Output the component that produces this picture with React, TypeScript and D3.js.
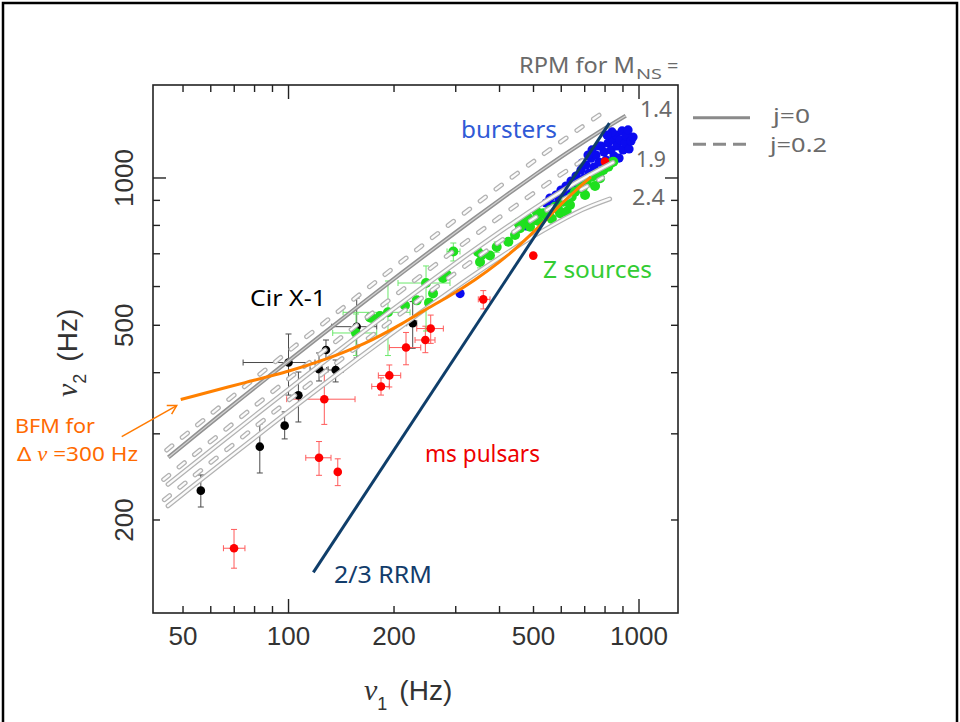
import React from 'react';
import * as d3 from 'd3';

// ---- axis domains & ticks ----
const X_DOMAIN = [41.05, 1292];
const Y_DOMAIN = [129.1, 1549];
const X_TICK_LABELS = [50, 100, 200, 500, 1000];
const Y_TICK_LABELS = [200, 500, 1000];
const X_MAJOR = [100, 1000];
const X_MINOR = [50, 60, 70, 80, 90, 200, 300, 400, 500, 600, 700, 800, 900];
const Y_MAJOR = [1000];
const Y_MINOR = [200, 300, 400, 500, 600, 700, 800, 900];

// ---- RPM model curves [nu1, nu2] ----
const rpm14j0 = [[45.4, 268.4], [63, 325.1], [89.5, 397.2], [122.5, 474], [162.6, 555.1], [210.8, 640.4], [268.2, 729.7], [336, 822.7], [415.9, 919.5], [509.9, 1019.7], [621, 1123.4], [753.9, 1230.4], [916.6, 1340.5]];
const rpm19j0 = [[45.3, 236.5], [65.9, 292.7], [90.2, 349.2], [119.8, 409], [155.3, 471.8], [197.6, 537.6], [247.6, 606.2], [306.4, 677.5], [375.7, 751.4], [457.5, 827.7], [555.5, 906.6], [675.3, 987.6], [843, 1076]];
const rpm24j0 = [[45.3, 213.7], [52.2, 231.7], [71.5, 276.5], [94.8, 323.8], [123, 373.5], [156.4, 425.7], [196, 479.9], [242.6, 536.4], [297.4, 594.8], [362.2, 655.3], [439.7, 717.7], [534.7, 781.9], [689.1, 861.4], [825, 906.3]];
const rpm14j2 = [[44.9, 277.9], [82.4, 395.9], [147.4, 552.5], [239.1, 725.3], [371.8, 923.9], [528.4, 1112.8], [673.8, 1259.4], [770.6, 1345.3]];
const rpm19j2 = [[44, 241.9], [88.1, 361.3], [154.6, 496.9], [248.9, 646.3], [389.3, 819.9], [567.6, 991], [728.8, 1113.6]];
const rpm24j2 = [[44.2, 219.9], [86, 322.3], [139.5, 423.1], [216.9, 538.9], [333.2, 675.8], [471.1, 802.7], [610, 903.5], [787.2, 1000.9]];

// ---- BFM curve and RRM line ----
const bfm = [[49.25, 352.5], [77.6, 384.2], [101, 403.3], [125.5, 423.5], [167.2, 459.2], [208, 500.7], [242.4, 535.6], [289, 574.1], [340.5, 618.7], [401.3, 673.5], [457.6, 729.8], [521.9, 797.7], [595.1, 880.7], [656.8, 940.6], [729.4, 1004.7]];
const rrm = [[117.7, 156.3], [823, 1295]];

// ---- data: [nu1, nu2, nu1lo, nu1hi, nu2lo, nu2hi] ----
const cirX1 = [
  [56.2, 229.6, null, null, 212.6, 247.2],
  [82.8, 282.4, null, null, 249.5, 314.4],
  [97.5, 311.8, null, null, 292.9, 332.6],
  [100, 419.6, 74.2, 119, 360, 479.9],
  [106.7, 359.6, null, null, 317.2, 401.3],
  [122.2, 406.4, 115.2, 129.7, 384.7, 438.9],
  [136.3, 405.1, 128.5, 143, 383, 424.6],
  [127.9, 445, null, null, 424.6, 466.5],
  [156.5, 496.7, 132.8, 178.5, 428.7, 568.5],
  [226.1, 504.7, 217.4, 232.2, 448.7, 558.9],
];
const msPulsars = [
  [69.9, 175.1, 65.2, 75.1, 159.4, 191.3],
  [122.2, 268, 112, 132.2, 246.8, 289.3],
  [138.2, 250.8, null, null, 235.1, 266.7],
  [126.5, 353.1, 98.8, 154.8, 313.6, 401.8],
  [183.6, 374.9, 172.8, 193.9, 360, 390.4],
  [193.9, 394.9, 180.4, 209, 374, 414.8],
  [216.4, 450.2, 193.9, 238.4, 415.2, 483.4],
  [245.7, 466.5, 229.6, 261.8, 439.5, 497.8],
  [254.5, 492.3, 232.2, 276.5, 459.2, 524.6],
  [359.5, 564.9, 347.9, 375.7, 540, 588.6],
  [499.3, 694, null, null, null, null],
  [799.8, 1080, null, null, null, null],
];
const zErr = [
  [155.8, 482.2, 133.7, 178.5, 433.6, 527.3],
  [192.2, 531.4, 143.1, 222.2, 433.6, 615.8],
  [246.8, 610, 205.3, 288.9, 486.7, 661],
  [295.3, 707.7, 283.3, 308.5, 676.7, 736.4],
  [351.9, 673.5, 344, 360, 655, 692],
  [392.6, 722.8, 386, 400, 705, 740],
];
const zSources = [[170.8, 518.5], [182.4, 522.4], [192.2, 531.4], [214.9, 548.7], [232.2, 562.2], [246.8, 610], [258.4, 580.7], [251.7, 556.2], [275.9, 624.5], [282.7, 634.6], [295.3, 707.7], [347.3, 706.1], [351.9, 673.5], [355.8, 696.1], [375.7, 694.2], [392.6, 722.8], [423.8, 740.5], [442.9, 764.6], [452.6, 809.6], [457.6, 789.3], [467.6, 808.1], [482.4, 829.6], [488.7, 795.3], [505, 820.7], [510.7, 853.5], [517, 817], [533.3, 847.1], [545.3, 836.2], [557.4, 860.2], [564, 825], [575.9, 873.7], [587.6, 864.3], [595.1, 847.1], [608.1, 894.6], [621.9, 853.5], [621.9, 899.6], [635.6, 880.7], [642.7, 915.8], [656.8, 937.5], [678.8, 952.6], [693.6, 960], [701.5, 923.1], [709.3, 975.4], [732.8, 1006.1], [749.1, 963], [765.5, 1022.3], [774.2, 998.6], [791, 1038], [817.5, 1054.6], [836, 1075.2], [844.8, 1079.7], [155.8, 482.2], [173.1, 517.5]];
const bursters = [[543, 889], [557, 910.1], [568.5, 880.7], [579.7, 923], [591.2, 901.6], [599, 945], [611, 918.8], [619, 963], [631.4, 936.3], [639.8, 985.9], [652.5, 954], [661.1, 1009], [674.3, 972.2], [683.3, 1038], [696.9, 1000], [706.1, 1063], [720.2, 1023.6], [729.7, 1098], [734.5, 1141], [744.2, 1053], [754.1, 1114], [769.1, 1077.9], [779.3, 1162.5], [789.5, 1038], [794.7, 1130.4], [805.2, 1088], [815.9, 1179], [821.3, 1063], [832.1, 1141], [843.1, 1196], [848.7, 1108.8], [859.9, 1224], [865.6, 1162.5], [877.2, 1098.3], [883, 1196], [894.6, 1247.7], [900.5, 1141], [912.5, 1179], [918.5, 1218.3], [930.6, 1253.6], [936.7, 1146.4], [948.8, 1190.4], [961.4, 1212.6], [769.1, 1162.5], [715.5, 1114], [687.8, 1072.8], [837.6, 1241.9], [810.6, 1224], [308.6, 580.5], [476, 797.7]];

const LBL = "'Comic Sans MS','Noto Sans',sans-serif";

export default function App() {
  const xs = d3.scaleLog().domain(X_DOMAIN).range([153, 678]);
  const ys = d3.scaleLog().domain(Y_DOMAIN).range([613, 85]);
  const [L, R] = xs.range();
  const [B, T] = ys.range();
  const line = d3.line<number[]>().x((d) => xs(d[0])).y((d) => ys(d[1])).curve(d3.curveCatmullRom.alpha(0.5));
  const smooth = d3.line<number[]>().x((d) => xs(d[0])).y((d) => ys(d[1])).curve(d3.curveBasis);
  const straight = d3.line<number[]>().x((d) => xs(d[0])).y((d) => ys(d[1]));

  const errBars = (rows: any[], color: string, key: string) =>
    rows.map((r, i) => {
      const cx = xs(r[0]);
      const cy = ys(r[1]);
      const els: any[] = [];
      if (r[2] != null) {
        const x1 = xs(r[2]);
        const x2 = xs(r[3]);
        els.push(<line key="h" x1={x1} x2={x2} y1={cy} y2={cy} />);
        els.push(<line key="hc1" x1={x1} x2={x1} y1={cy - 3} y2={cy + 3} />);
        els.push(<line key="hc2" x1={x2} x2={x2} y1={cy - 3} y2={cy + 3} />);
      }
      if (r[4] != null) {
        const y1 = ys(r[4]);
        const y2 = ys(r[5]);
        els.push(<line key="v" x1={cx} x2={cx} y1={y1} y2={y2} />);
        els.push(<line key="vc1" x1={cx - 3} x2={cx + 3} y1={y1} y2={y1} />);
        els.push(<line key="vc2" x1={cx - 3} x2={cx + 3} y1={y2} y2={y2} />);
      }
      return (
        <g key={key + i} stroke={color} strokeWidth={1}>
          {els}
        </g>
      );
    });

  const dots = (rows: any[], color: string, r: number, key: string) =>
    rows.map((d, i) => <circle key={key + i} cx={xs(d[0])} cy={ys(d[1])} r={r} fill={color} />);

  const tube = (data: number[][], dashed: boolean, dark: boolean, key: string) => {
    const d = line(data) as string;
    if (dark) {
      return (
        <g key={key}>
          <path d={d} fill="none" stroke="#929292" strokeWidth={4.2} />
          <path d={d} fill="none" stroke="#d2d2d2" strokeWidth={1.2} />
        </g>
      );
    }
    const da = dashed ? '7 13' : undefined;
    return (
      <g key={key}>
        <path d={d} fill="none" stroke="#b2b2b2" strokeWidth={4.8} strokeDasharray={da} strokeLinecap="round" />
        <path d={d} fill="none" stroke="#fbfbfb" strokeWidth={2.3} strokeDasharray={da} strokeLinecap="round" />
      </g>
    );
  };

  const tip = [xs(bfm[0][0]) - 4, ys(bfm[0][1]) + 6];
  const tail = [tip[0] - 55, tip[1] + 31];

  return (
    <svg width={960} height={722} style={{ position: 'absolute', left: 0, top: 0, background: '#fff' }}>
      <rect x={3} y={3} width={954} height={745} fill="none" stroke="#000" strokeWidth={2.5} />

      {/* error bars */}
      {errBars(cirX1, '#4a4a4a', 'be')}
      {errBars(msPulsars, '#ff5a5a', 're')}
      {errBars(zErr, '#6be86b', 'ge')}

      {/* points */}
      {dots(cirX1, '#000', 4.3, 'bd')}
      {dots(bursters, '#0b0bf0', 4.6, 'ud')}
      {dots(zSources, '#1fe01f', 5, 'gd')}
      {dots(msPulsars, '#ff0000', 4.3, 'rd')}

      {/* model curves */}
      {tube(rpm24j0, false, false, 'c24')}
      {tube(rpm24j2, true, false, 'c24d')}
      {tube(rpm19j0, false, false, 'c19')}
      {tube(rpm19j2, true, false, 'c19d')}
      {tube(rpm14j2, true, false, 'c14d')}
      {tube(rpm14j0, false, true, 'c14')}

      <path d={smooth(bfm) as string} fill="none" stroke="#ff8000" strokeWidth={3} />
      <path d={straight(rrm) as string} fill="none" stroke="#0f3e6a" strokeWidth={3} />

      {/* frame and ticks */}
      <rect x={L} y={T} width={R - L} height={B - T} fill="none" stroke="#222" strokeWidth={1.6} />
      <g stroke="#222" strokeWidth={1.4}>
        {X_MAJOR.map((v) => (
          <g key={'xM' + v}>
            <line x1={xs(v)} x2={xs(v)} y1={B} y2={B - 14} />
            <line x1={xs(v)} x2={xs(v)} y1={T} y2={T + 14} />
          </g>
        ))}
        {X_MINOR.map((v) => (
          <g key={'xm' + v}>
            <line x1={xs(v)} x2={xs(v)} y1={B} y2={B - 7} />
            <line x1={xs(v)} x2={xs(v)} y1={T} y2={T + 7} />
          </g>
        ))}
        {Y_MAJOR.map((v) => (
          <g key={'yM' + v}>
            <line x1={L} x2={L + 13} y1={ys(v)} y2={ys(v)} />
            <line x1={R} x2={R - 13} y1={ys(v)} y2={ys(v)} />
          </g>
        ))}
        {Y_MINOR.map((v) => (
          <g key={'ym' + v}>
            <line x1={L} x2={L + 7} y1={ys(v)} y2={ys(v)} />
            <line x1={R} x2={R - 7} y1={ys(v)} y2={ys(v)} />
          </g>
        ))}
      </g>
      <g fontFamily="'Liberation Sans',Arial,sans-serif" fontSize={26} fill="#333">
        {X_TICK_LABELS.map((v) => (
          <text key={'xl' + v} x={xs(v)} y={645} textAnchor="middle">{v}</text>
        ))}
        {Y_TICK_LABELS.map((v) => (
          <text key={'yl' + v} transform={`translate(133,${ys(v)}) rotate(-90)`} textAnchor="middle">{v}</text>
        ))}
      </g>

      {/* axis titles */}
      <text x={364} y={700} fontSize={28} fill="#333" fontFamily="'Liberation Sans',Arial,sans-serif">
        <tspan fontFamily="'Liberation Serif',serif" fontStyle="italic" fontSize={30}>ν</tspan>
        <tspan dy={10} fontSize={18}>1</tspan>
        <tspan dy={-10} dx={12}>(Hz)</tspan>
      </text>
      <text transform="translate(77,397) rotate(-90)" fontSize={28} fill="#333" fontFamily="'Liberation Sans',Arial,sans-serif">
        <tspan fontFamily="'Liberation Serif',serif" fontStyle="italic" fontSize={30}>ν</tspan>
        <tspan dy={9} fontSize={18}>2</tspan>
        <tspan dy={-9} dx={12}>(Hz)</tspan>
      </text>

      {/* annotations */}
      <g fontFamily={LBL}>
        <text x={461} y={138} fontSize={24} fill="#2f5ad6" textLength={96} lengthAdjust="spacingAndGlyphs">bursters</text>
        <text x={543} y={278} fontSize={24} fill="#33cc33" textLength={109} lengthAdjust="spacingAndGlyphs">Z sources</text>
        <text x={250} y={306} fontSize={22} fill="#000" textLength={76} lengthAdjust="spacingAndGlyphs">Cir X-1</text>
        <text x={425} y={462} fontSize={24} fill="#ee0000" textLength={115} lengthAdjust="spacingAndGlyphs">ms pulsars</text>
        <text x={334} y={583} fontSize={24} fill="#123c6b" textLength={98} lengthAdjust="spacingAndGlyphs">2/3 RRM</text>
        <text x={15} y={433} fontSize={20} fill="#ff6a00" textLength={80} lengthAdjust="spacingAndGlyphs">BFM for</text>
        <text x={17} y={461} fontSize={20} fill="#ff6a00" textLength={121} lengthAdjust="spacingAndGlyphs">
          Δ <tspan fontFamily="'Liberation Serif',serif" fontStyle="italic">ν</tspan> =300 Hz
        </text>
        <text x={519} y={73} fontSize={22} fill="#6a6a6a" textLength={116} lengthAdjust="spacingAndGlyphs">RPM for M</text>
        <text x={636} y={79} fontSize={15} fill="#6a6a6a" textLength={26} lengthAdjust="spacingAndGlyphs">NS</text>
        <text x={667} y={73} fontSize={20} fill="#6a6a6a">=</text>
        <text x={640} y={117} fontSize={22} fill="#6a6a6a" textLength={32} lengthAdjust="spacingAndGlyphs">1.4</text>
        <text x={636} y={167} fontSize={22} fill="#6a6a6a" textLength={30} lengthAdjust="spacingAndGlyphs">1.9</text>
        <text x={632} y={205} fontSize={22} fill="#6a6a6a" textLength={33} lengthAdjust="spacingAndGlyphs">2.4</text>
        <text x={773} y={123} fontSize={20} fill="#6a6a6a" textLength={37} lengthAdjust="spacingAndGlyphs">j=0</text>
        <text x={770} y={152} fontSize={20} fill="#6a6a6a" textLength={57} lengthAdjust="spacingAndGlyphs">j=0.2</text>
      </g>
      <line x1={693} x2={750} y1={117.7} y2={117.7} stroke="#8a8a8a" strokeWidth={3} />
      <line x1={693} x2={750} y1={144.3} y2={144.3} stroke="#8a8a8a" strokeWidth={3} strokeDasharray="13 7" />

      {/* arrow */}
      <g stroke="#ff7a00" strokeWidth={1.5} fill="none">
        <line x1={tail[0]} y1={tail[1]} x2={tip[0]} y2={tip[1]} />
        <polyline points={`${tip[0] - 10},${tip[1] - 0.1} ${tip[0]},${tip[1]} ${tip[0] - 5.1},${tip[1] + 8.6}`} />
      </g>
    </svg>
  );
}
